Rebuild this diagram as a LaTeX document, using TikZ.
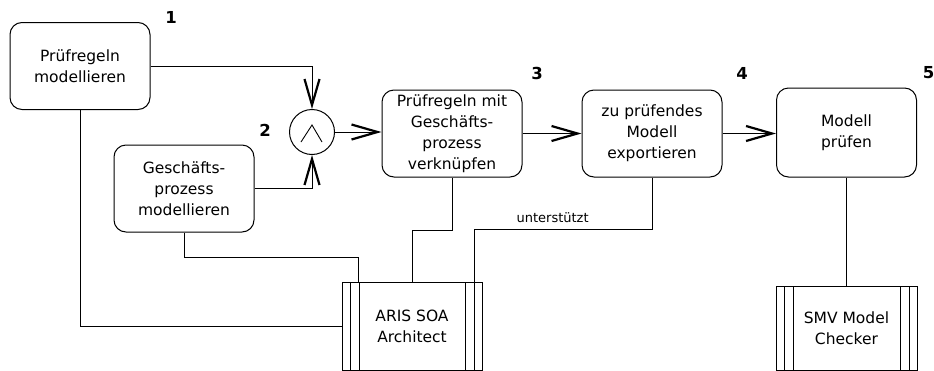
\documentclass[tikz,border=0pt]{standalone}
\usepackage{fontspec}
\setmainfont{DejaVu Sans}
\usetikzlibrary{arrows.meta,calc}

\begin{document}
\begin{tikzpicture}[x=1pt,y=-1pt,
  stepbox/.style={draw,line width=1pt,rounded corners=12pt,minimum width=140pt,minimum height=87pt,
    inner sep=0pt,align=center,font=\fontsize{15.5}{21}\selectfont},
  toolbox/.style={draw,line width=1pt,minimum width=140pt,minimum height=88pt,inner sep=0pt,
    align=center,font=\fontsize{15.5}{21}\selectfont,
    path picture={
      \draw ([xshift=8pt]path picture bounding box.north west) -- ([xshift=8pt]path picture bounding box.south west);
      \draw ([xshift=17pt]path picture bounding box.north west) -- ([xshift=17pt]path picture bounding box.south west);
      \draw ([xshift=-8pt]path picture bounding box.north east) -- ([xshift=-8pt]path picture bounding box.south east);
      \draw ([xshift=-17pt]path picture bounding box.north east) -- ([xshift=-17pt]path picture bounding box.south east);}},
  flow/.style={line width=0.9pt,-{Straight Barb[length=26pt,width=15pt,line width=2.2pt]}},
  link/.style={line width=0.9pt},
  stepno/.style={font=\bfseries\fontsize{16.5}{20}\selectfont}]
\useasboundingbox (0,0) rectangle (934,370);

% process steps
\node[stepbox] (pr) at (80,66) {Prüfregeln\\modellieren};
\node[stepbox] (gp) at (184,188.5) {Geschäfts-\\prozess\\modellieren};
\node[circle,draw,line width=1pt,minimum size=45pt,inner sep=0pt] (and) at (312,132) {};
\node[stepbox] (vk) at (452,133.5) {Prüfregeln mit\\Geschäfts-\\prozess\\verknüpfen};
\node[stepbox] (ex) at (652,133.5) {zu prüfendes\\Modell\\exportieren};
\node[stepbox,minimum height=89pt] (mp) at (846.5,132.5) {Modell\\prüfen};

% tools
\node[toolbox] (aris) at (412,326) {ARIS SOA\\Architect};
\node[toolbox,minimum width=141pt,minimum height=84pt] (smv) at (846.5,328) {SMV Model\\Checker};

% step numbers
\node[stepno] (n1) at (171,17) {1};
\node[stepno] (n2) at (265,130) {2};
\node[stepno] (n3) at (537,73) {3};
\node[stepno] (n4) at (742,73) {4};
\node[stepno] (n5) at (928.5,73) {5};

% and connector
\draw[line width=0.9pt] ($(and)+(-11,10)$) -- ($(and)+(0,-7)$) -- ($(and)+(10,10)$);

% control flow
\draw[flow] (pr.east) -| (and.north);
\draw[flow] (gp.east) -| (and.south);
\draw[flow] (and.east) -- (and.east -| vk.west);
\draw[flow] (vk.east) -- (ex.west);
\draw[flow] (ex.east) -- (ex.east -| mp.west);

% tool support
\draw[link] (pr.south) |- (aris.west);
\draw[link] (gp.south) -- ++(0,25) -| ([xshift=17pt]aris.north west);
\draw[link] (vk.south) -- ++(0,53) -| (aris.north);
\draw[link] (ex.south) -- ++(0,52) -| ([xshift=-8pt]aris.north east)
  node[pos=0.28,above=3pt,font=\fontsize{13}{15}\selectfont] {unterstützt};
\draw[link] (mp.south) -- (smv.north);
\end{tikzpicture}
\end{document}
